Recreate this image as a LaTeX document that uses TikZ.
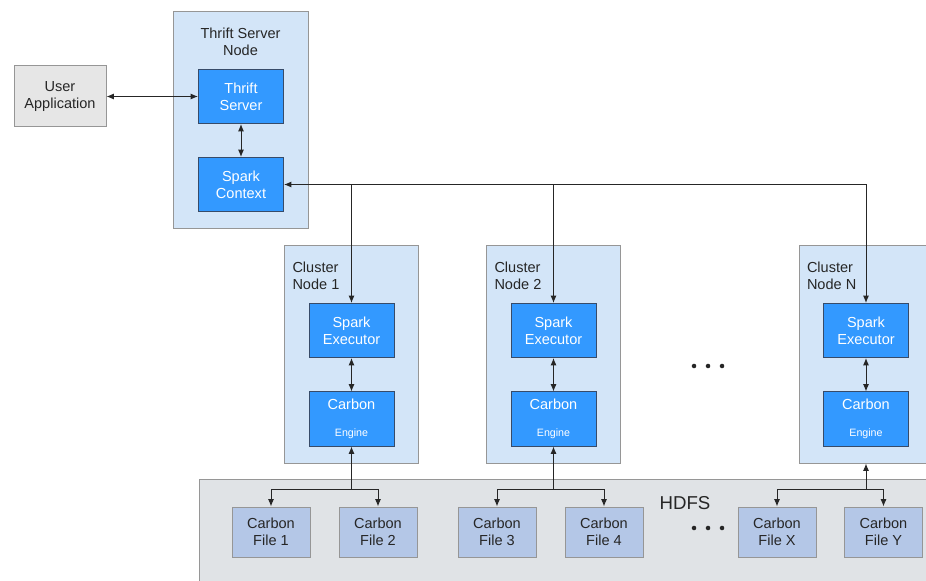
\documentclass[tikz,border=0pt]{standalone}
\usepackage{fontspec}
\setmainfont{Liberation Sans}
\usetikzlibrary{arrows.meta,positioning,calc}

\definecolor{hostblue}{RGB}{211,229,248}
\definecolor{procblue}{RGB}{51,153,255}
\definecolor{procline}{RGB}{55,75,105}
\definecolor{filefill}{RGB}{180,199,231}
\definecolor{hdfsgray}{RGB}{224,227,230}
\definecolor{appgray}{RGB}{230,230,230}
\definecolor{edgegray}{RGB}{150,150,150}

\tikzset{
  base/.style={font=\fontsize{10.9}{12.75}\selectfont,align=center,inner sep=0pt,line width=0.75pt},
  hostbox/.style={draw=edgegray,fill=hostblue,line width=0.75pt,
                  minimum width=100.5pt,minimum height=162.75pt},
  hosttitle/.style={base,align=left,text=black!85},
  procbox/.style={base,draw=procline,fill=procblue,text=white,
                  minimum width=63.75pt,minimum height=40.5pt},
  filebox/.style={base,draw=edgegray,fill=filefill,text=black!85,
                  minimum width=58.5pt,minimum height=37.5pt},
  link/.style={draw=black!85,line width=0.75pt}
}

\begin{document}
\begin{tikzpicture}[x=0.75pt,y=-0.75pt,>={Latex[length=5.5pt,width=4.5pt]}]
  \useasboundingbox (0,0) rectangle (926,581);
  \clip (0,0) rectangle (926,581);

  % client and thrift server node
  \node[base,draw=edgegray,fill=appgray,text=black!85,minimum width=69pt,minimum height=45.75pt]
    (app) at (60,96.5) {User\\Application};
  \node[hostbox,minimum width=101.25pt] (tsn) at (240.5,120.5) {};
  \node[hosttitle,align=center,below=12pt of tsn.north] (tsn-lbl) {Thrift Server\\Node};
  \node[procbox] (ts) at (241,96.5) {Thrift\\Server};
  \node[procbox] (sc) at (241,184.5) {Spark\\Context};
  \draw[link,<->] (app) -- (ts);
  \draw[link,<->] (ts) -- (sc);

  % cluster nodes
  \foreach \k/\x in {1/351.5,2/553.5,N/866} {
    \node[hostbox] (cl\k) at (\x,354.5) {};
    \node[hosttitle,below right=12pt and 6pt of cl\k.north west] (cl\k-lbl) {Cluster\\Node \k};
    \node[procbox] (ex\k) at (\x,330.5) {Spark\\Executor};
    \node[procbox] (en\k) at (\x,419) {Carbon\\[7.25pt]{\fontsize{8}{9.6}\selectfont Engine}};
    \draw[link,<->] (ex\k) -- (en\k);
    \draw[link,->] (sc.east -| ex\k.north) -- (ex\k.north);
  }
  \draw[link,->] (exN.north |- sc.east) -- (sc.east);
  \foreach \x in {694,708,722} \fill[black!85] (\x,366) circle[radius=1.7pt];

  % storage
  \node[draw=edgegray,fill=hdfsgray,line width=0.75pt,anchor=north west,
        minimum width=560pt,minimum height=90pt] (hdfs) at (199,479) {};
  \node[base,font=\fontsize{14}{16}\selectfont,text=black!85] (hdfs-lbl) at (685,503) {HDFS};
  \foreach \f/\x in {1/271,2/378,3/497,4/604,X/777,Y/883.5}
    \node[filebox] (f\f) at (\x,532) {Carbon\\File \f};
  \foreach \x in {694,708,722} \fill[black!85] (\x,528) circle[radius=1.7pt];

  \foreach \k/\a/\b/\t in {1/1/2/en1,2/3/4/en2,N/X/Y/clN} {
    \path (en\k.south) ++(0,43) coordinate (j\k);
    \draw[link,->] (j\k) -- (\t.south);
    \draw[link,->] (j\k) -| (f\a);
    \draw[link,->] (j\k) -| (f\b);
  }
\end{tikzpicture}
\end{document}
